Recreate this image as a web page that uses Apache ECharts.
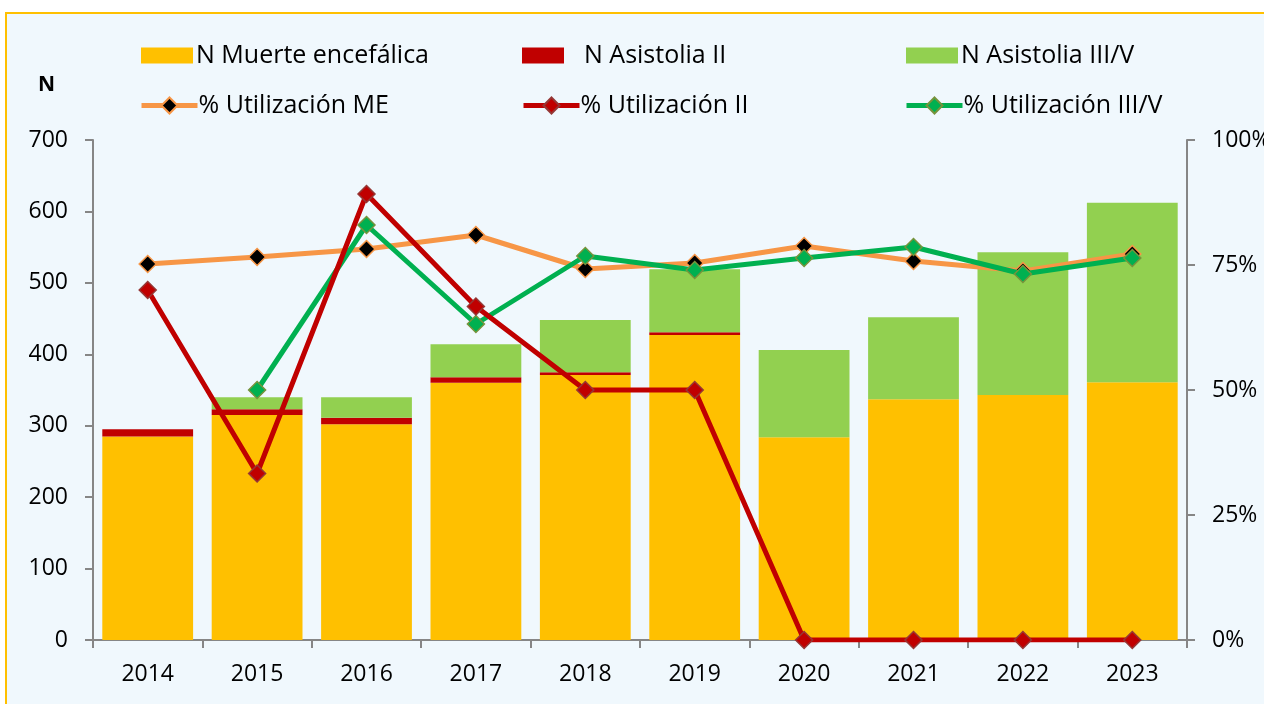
<!DOCTYPE html>
<html>
<head>
<meta charset="utf-8">
<script src="https://cdn.jsdelivr.net/npm/echarts@6/dist/echarts.min.js"></script>
<style>
  html, body { margin: 0; padding: 0; background: #fff; }
  .frame {
    position: absolute; left: 5px; top: 12px; width: 1270px; height: 700px;
    border: 2px solid #FFC000; background: #F0F8FD; box-sizing: border-box;
  }
  #chart { position: absolute; left: 0; top: 0; width: 1264px; height: 704px; }
</style>
</head>
<body>
<div class="frame"></div>
<div id="chart"></div>
<script>
// datos
var years = ["2014", "2015", "2016", "2017", "2018", "2019", "2020", "2021", "2022", "2023"];
var nME = [285, 315, 302, 360, 371, 427, 284, 337, 343, 361];
var nII = [10, 8, 9, 8, 4, 4, 0, 0, 0, 0];
var nIII = [0, 17, 29, 46, 73, 88, 122, 115, 200, 251];
var pctME = [75.2, 76.6, 78.2, 81, 74.2, 75.4, 78.8, 75.8, 73.8, 77.2];
var pctII = [70, 33.3, 89.2, 66.7, 50, 50, 0, 0, 0, 0];
var pctIII = [null, 50, 83, 63.2, 76.8, 74, 76.4, 78.6, 73.2, 76.4];

var fontFam = "'Open Sans', 'Noto Sans', sans-serif";
var axisGray = "#868686";

var chart = echarts.init(document.getElementById("chart"));

// una leyenda por elemento para poder colocarlas como en el original
function legendBar(name, left, w, padLeft) {
  return {
    data: [{ name: name, icon: "rect" }],
    left: left, top: 38,
    itemWidth: w, itemHeight: 16,
    selectedMode: false,
    textStyle: { fontFamily: fontFam, fontSize: 25, color: "#000", padding: [0, 0, 0, padLeft] }
  };
}
function legendLine(name, left) {
  return {
    data: [{ name: name, lineStyle: { width: 5 } }],
    left: left, top: 88,
    itemWidth: 56, itemHeight: 20,
    selectedMode: false,
    textStyle: { fontFamily: fontFam, fontSize: 25, color: "#000", padding: [0, 0, 0, -4] }
  };
}

function lineSerie(name, data, color, symColor, symBorder, z) {
  return {
    name: name,
    type: "line",
    yAxisIndex: 1,
    data: data,
    z: z,
    symbol: "diamond",
    symbolSize: 17,
    lineStyle: { color: color, width: 5 },
    itemStyle: { color: symColor, borderColor: symBorder, borderWidth: 1.5 }
  };
}

var axisCommon = {
  axisLine: { show: true, lineStyle: { color: axisGray, width: 2 } },
  axisTick: { show: true, length: 8, lineStyle: { color: axisGray, width: 2 } },
  splitLine: { show: false }
};

var option = {
  animation: false,
  backgroundColor: "transparent",
  textStyle: { fontFamily: fontFam },
  legend: [
    legendBar("N Muerte encefálica", 136, 52, -2),
    legendBar("N Asistolia II", 517, 42, 15),
    legendBar("N Asistolia III/V", 901, 52, -2),
    legendLine("% Utilización ME", 134),
    legendLine("% Utilización II", 516),
    legendLine("% Utilización III/V", 899)
  ],
  graphic: [
    {
      type: "text", left: 38, top: 75,
      style: { text: "N", font: "bold 21px " + fontFam, fill: "#000" }
    }
  ],
  grid: { left: 93, right: 77, top: 140, bottom: 64, outerBoundsMode: "none" },
  xAxis: Object.assign({
    type: "category",
    data: years,
    axisLabel: { color: "#000", fontSize: 23, margin: 23, fontFamily: fontFam }
  }, axisCommon),
  yAxis: [
    Object.assign({
      type: "value", min: 0, max: 700, interval: 100,
      axisLabel: { color: "#000", fontSize: 23, margin: 25, fontFamily: fontFam }
    }, axisCommon),
    Object.assign({
      type: "value", min: 0, max: 100, interval: 25,
      axisLabel: { color: "#000", fontSize: 23, margin: 25, fontFamily: fontFam, formatter: "{value}%" }
    }, axisCommon)
  ],
  series: [
    {
      name: "N Muerte encefálica", type: "bar", stack: "n", data: nME,
      barCategoryGap: "17%", itemStyle: { color: "#FFC000" }
    },
    {
      name: "N Asistolia II", type: "bar", stack: "n", data: nII,
      itemStyle: { color: "#C00000" }
    },
    {
      name: "N Asistolia III/V", type: "bar", stack: "n", data: nIII,
      itemStyle: { color: "#92D050" }
    },
    lineSerie("% Utilización ME", pctME, "#F79646", "#000000", "#F79646", 3),
    lineSerie("% Utilización II", pctII, "#C00000", "#C00000", "#953735", 5),
    lineSerie("% Utilización III/V", pctIII, "#00B050", "#00B050", "#77933C", 4)
  ]
};

chart.setOption(option);
</script>
</body>
</html>
